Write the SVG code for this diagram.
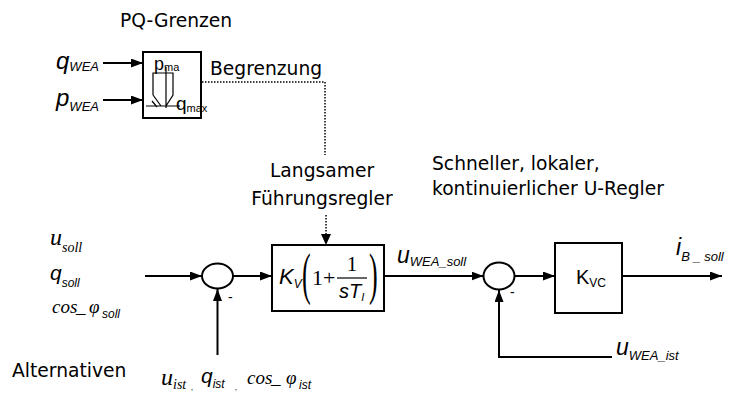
<svg xmlns="http://www.w3.org/2000/svg" width="731" height="394" viewBox="0 0 731 394">
<defs>
<style>
.lbl{font-family:"DejaVu Sans",sans-serif;font-size:18.7px;fill:#000}
.si{font-family:"Liberation Sans",Arial,sans-serif;font-style:italic;fill:#000}
.sn{font-family:"Liberation Sans",Arial,sans-serif;fill:#000}
.ti{font-family:"Liberation Serif","Times New Roman",serif;font-style:italic;fill:#000}
.tn{font-family:"Liberation Serif","Times New Roman",serif;fill:#000}
.ln{stroke:#000;stroke-width:2;fill:none}
.box{stroke:#000;stroke-width:2;fill:#fff}
.dot{stroke:#000;stroke-width:1.5;fill:none;stroke-dasharray:1.5 1.5}
</style>
<marker id="ah" markerWidth="12" markerHeight="9" refX="12" refY="4.5" orient="auto" markerUnits="userSpaceOnUse">
<path d="M0,0 L12,4.5 L0,9 Z" fill="#000"/>
</marker>
</defs>
<rect width="731" height="394" fill="#fff"/>

<g id="connectors">
<line class="ln" x1="103" y1="63" x2="143" y2="63" marker-end="url(#ah)"/>
<line class="ln" x1="103" y1="100" x2="143" y2="100" marker-end="url(#ah)"/>
<polyline class="dot" points="202,82 325,82 325,155"/>
<line class="dot" x1="326" y1="215" x2="326" y2="234"/>
<line class="ln" x1="145" y1="276" x2="202" y2="276" marker-end="url(#ah)"/>
<line class="ln" x1="233" y1="276" x2="272" y2="276" marker-end="url(#ah)"/>
<line class="ln" x1="217.5" y1="355" x2="217.5" y2="289" marker-end="url(#ah)"/>
<line class="ln" x1="384" y1="276" x2="483.5" y2="276" marker-end="url(#ah)"/>
<line class="ln" x1="514.5" y1="276" x2="555" y2="276" marker-end="url(#ah)"/>
<line class="ln" x1="622" y1="276" x2="722" y2="276" marker-end="url(#ah)"/>
<polyline class="ln" points="612,357 499,357 499,290" marker-end="url(#ah)"/>
<path d="M321,234 L326,245 L331,234 Z" fill="#000"/>
</g>

<g id="pq-grenzen">
<text class="lbl" x="120" y="27">PQ-Grenzen</text>
<rect class="box" x="143" y="52" width="58" height="66"/>
<path d="M166,67 V108 M146,106 H180 M153,95 V73 H173 V95 L166,106 M153,95 L161,106 M152,101 L157,107" stroke="#000" stroke-width="1.2" fill="none"/>
<text class="sn" x="154" y="70" font-size="18">p<tspan font-size="11" dy="1">ma</tspan></text>
<text class="sn" x="176" y="110" font-size="19">q<tspan font-size="11" dy="2">max</tspan></text>
</g>

<g id="in-q-wea">
<text class="si" x="56" y="69" font-size="24">q<tspan font-size="13" dy="2">WEA</tspan></text>
</g>
<g id="in-p-wea">
<text class="si" x="56" y="106" font-size="24">p<tspan font-size="13" dy="5">WEA</tspan></text>
</g>
<g id="lbl-begrenzung">
<text class="lbl" x="210" y="75">Begrenzung</text>
</g>

<g id="lbl-langsam">
<text class="lbl" x="322" y="177" text-anchor="middle" font-size="18">Langsamer</text>
<text class="lbl" x="322" y="205" text-anchor="middle" font-size="18">Führungsregler</text>
</g>

<g id="lbl-schnell">
<text class="lbl" x="432" y="170" font-size="19.3">Schneller, lokaler,</text>
<text class="lbl" x="432" y="195" font-size="19.3">kontinuierlicher U-Regler</text>
</g>

<g id="inputs-soll">
<text class="ti" x="50" y="245" font-size="24">u<tspan font-size="14" dy="7">soll</tspan></text>
<text class="si" x="50" y="280" font-size="21">q<tspan font-size="12" dy="7">soll</tspan></text>
<text class="ti" x="52" y="313" font-size="19">cos<tspan x="76">_</tspan><tspan x="89">φ</tspan></text>
<text class="si" x="102" y="318" font-size="12">soll</text>
</g>

<g id="lbl-alternativen">
<text class="lbl" x="12" y="377" font-size="19">Alternativen</text>
</g>

<g id="sum1">
<ellipse cx="217.5" cy="276" rx="15.5" ry="12.5" class="box"/>
<text class="sn" x="228" y="302" font-size="14">-</text>
</g>

<g id="inputs-ist">
<text class="ti" x="161" y="385" font-size="24">u<tspan font-size="14" dy="4">ist</tspan></text>
<text class="tn" x="191" y="390" font-size="8">,</text>
<text class="si" x="201" y="383" font-size="21">q<tspan font-size="12" dy="5">ist</tspan></text>
<text class="tn" x="235" y="390" font-size="8">,</text>
<text class="ti" x="247" y="384" font-size="19">cos<tspan x="271">_</tspan><tspan x="286">φ</tspan></text>
<text class="si" x="299" y="389" font-size="12">ist</text>
</g>

<g id="pi-regler">
<rect class="box" x="272" y="245" width="112" height="66"/>
<text class="si" x="279" y="284" font-size="22">K<tspan font-size="12" dy="4">V</tspan></text>
<text class="tn" font-size="58" transform="translate(302,293) scale(0.45,1)">(</text>
<text class="tn" font-size="58" transform="translate(369,293) scale(0.45,1)">)</text>
<text class="tn" x="312" y="285" font-size="22">1+</text>
<text class="tn" x="352" y="271" font-size="21" text-anchor="middle">1</text>
<line x1="337" y1="278" x2="367" y2="278" stroke="#000" stroke-width="1.2"/>
<text class="si" x="339" y="298" font-size="20">sT<tspan font-size="11" dy="3">I</tspan></text>
</g>

<g id="lbl-uwea-soll">
<text class="si" x="397" y="263" font-size="23">u<tspan font-size="13" dy="3">WEA_soll</tspan></text>
</g>

<g id="sum2">
<ellipse cx="499" cy="276" rx="15.5" ry="13.5" class="box"/>
<text class="sn" x="510" y="297" font-size="14">-</text>
</g>

<g id="kvc">
<rect class="box" x="555" y="243" width="67" height="70"/>
<text class="sn" x="576" y="284" font-size="20">K<tspan font-size="12" dy="3">VC</tspan></text>
</g>

<g id="out-ib">
<text class="si" x="676" y="255" font-size="23">i<tspan font-size="13" dy="6" xml:space="preserve">B _ soll</tspan></text>
</g>

<g id="in-uwea-ist">
<text class="si" x="616" y="355" font-size="23">u<tspan font-size="13" dy="5">WEA_ist</tspan></text>
</g>
</svg>
